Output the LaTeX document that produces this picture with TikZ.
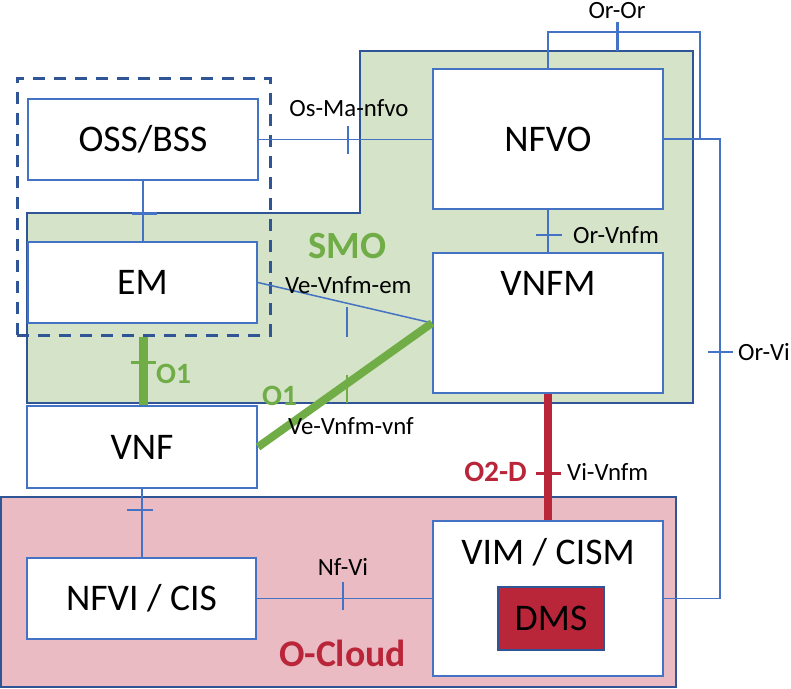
\documentclass[tikz,border=0pt]{standalone}
\usepackage{fontspec}
\setmainfont{Carlito}
\definecolor{cblue}{HTML}{4472C4}
\definecolor{dblue}{HTML}{2F5597}
\definecolor{smofill}{HTML}{D5E3C8}
\definecolor{cloudfill}{HTML}{EABBC3}
\definecolor{cred}{HTML}{BA2639}
\definecolor{cgreen}{HTML}{70AD47}
\begin{document}
\begin{tikzpicture}[x=1pt,y=-1pt,
  box/.style={draw=cblue,line width=2pt,fill=white,inner sep=0pt,
    minimum width=230pt,font=\fontsize{37.6}{40}\selectfont,
    text height=24pt,text depth=0pt},
  bigtext/.style={inner sep=0pt,font=\fontsize{37.6}{40}\selectfont,
    text height=24pt,text depth=0pt},
  lbl/.style={inner sep=0pt,font=\fontsize{24.8}{28}\selectfont,
    text height=16pt,text depth=0pt},
  glbl/.style={inner sep=0pt,font=\fontsize{29.5}{32}\selectfont\bfseries,
    text=cgreen,text height=19pt,text depth=0pt},
  rlbl/.style={inner sep=0pt,font=\fontsize{29.5}{32}\selectfont\bfseries,
    text=cred,text height=19pt,text depth=0pt},
  conn/.style={draw=cblue,line width=1.5pt},
  tickmark/.style={draw=cblue,line width=2.5pt},
  region/.style={draw=dblue,line width=2.5pt}
]
\useasboundingbox (0,0) rectangle (791,688);

% regions
\path[region,fill=smofill] (27,213) -- (360,213) -- (360,51) -- (693,51)
  -- (693,403) -- (27,403) -- cycle;
\node[region,fill=cloudfill,minimum width=675pt,minimum height=190pt,
  inner sep=0pt] (ocloud) at (338.5,592) {};
\node[draw=dblue,line width=3pt,dash pattern=on 12pt off 9pt,
  minimum width=253pt,minimum height=257pt,inner sep=0pt] (ossem) at (143.5,206.5) {};

% boxes
\node[box,minimum height=81pt] (oss) at (143,139.5) {OSS/BSS};
\node[box,minimum width=229pt,minimum height=81pt] (em) at (142.5,282.5) {EM};
\node[box,minimum height=82pt] (vnf) at (142,447) {VNF};
\node[box,minimum width=229pt,minimum height=81pt] (nfvi) at (141.5,598.5) {NFVI / CIS};
\node[box,minimum height=140pt] (nfvo) at (548,139) {NFVO};
\node[box,minimum height=140pt] (vnfm) at (548,323) {};
\node[bigtext] (vnfmt) at (548,283) {VNFM};
\node[box,minimum height=155pt] (vim) at (548,598.5) {};
\node[bigtext] (vimt) at (548,552) {VIM / CISM};
\node[box,draw=dblue,fill=cred,minimum width=106pt,minimum height=63pt] (dms) at (551,618.5) {DMS};

% coordinates
\coordinate (oror1) at (548,32);
\coordinate (oror2) at (700,32);
\coordinate (oror3) at (700,139);
\coordinate (orvi1) at (720,139);

% connectors
\draw[conn] (oss.south) -- (oss.south |- em.north);
\draw[conn] (oss.east) -- (oss.east -| nfvo.west);
\draw[conn] (nfvo.south) -- (vnfm.north);
\draw[conn] (nfvo.north) -- (oror1) -- (oror2) -- (oror3);
\draw[conn] (nfvo.east) -- (orvi1) |- (vim.east);
\draw[conn] (em.east) -- (vnfm.west);
\draw[conn] (vnf.south) -- (vnf.south |- nfvi.north);
\draw[conn] (nfvi.east) -- (nfvi.east -| vim.west);
\draw[draw=cgreen,line width=9pt] (ossem.south) -- (ossem.south |- vnf.north);
\draw[draw=cgreen,line width=8pt] (vnf.east) -- (vnfm.west);
\draw[draw=cred,line width=8pt] (vnfm.south) -- (vim.north);

% ticks
\draw[tickmark,line width=3pt] (131.7,213.3) -- (156.7,213.3);
\draw[tickmark] (348,126) -- (348,154);
\draw[tickmark] (536,235) -- (562,235);
\draw[tickmark] (617.7,22) -- (617.7,51);
\draw[tickmark] (708,352) -- (733,352);
\draw[tickmark] (347,307) -- (347,337);
\draw[tickmark] (127,510) -- (153,510);
\draw[tickmark] (343,582) -- (343,610);
\draw[draw=cgreen,line width=2.5pt] (347,375) -- (347,403);
\draw[draw=cgreen,line width=3pt] (131,362) -- (156,362);
\draw[draw=cred,line width=3pt] (536,473) -- (561,473);

% labels
\node[lbl] (l1) at (349,108) {Os-Ma-nfvo};
\node[lbl] (l2) at (617,10.5) {Or-Or};
\node[lbl,anchor=west] (l3) at (573,235) {Or-Vnfm};
\node[lbl,anchor=west] (l4) at (738,352) {Or-Vi};
\node[lbl,anchor=west] (l5) at (285,285) {Ve-Vnfm-em};
\node[lbl,anchor=west] (l6) at (288,426) {Ve-Vnfm-vnf};
\node[lbl,anchor=west] (l7) at (567,472) {Vi-Vnfm};
\node[lbl] (l8) at (343,567) {Nf-Vi};
\node[inner sep=0pt,font=\fontsize{38.5}{40}\selectfont\bfseries,text=cgreen,
  text height=24.5pt,text depth=0pt] (smo) at (347.5,246) {SMO};
\node[glbl,anchor=west] (o1a) at (156,374) {O1};
\node[glbl,anchor=west] (o1b) at (262,396) {O1};
\node[rlbl,anchor=east] (o2d) at (527,472) {O2-D};
\node[inner sep=0pt,font=\fontsize{37.7}{40}\selectfont\bfseries,text=cred,
  text height=24pt,text depth=0pt] (oc) at (342.5,654) {O-Cloud};
\end{tikzpicture}
\end{document}
